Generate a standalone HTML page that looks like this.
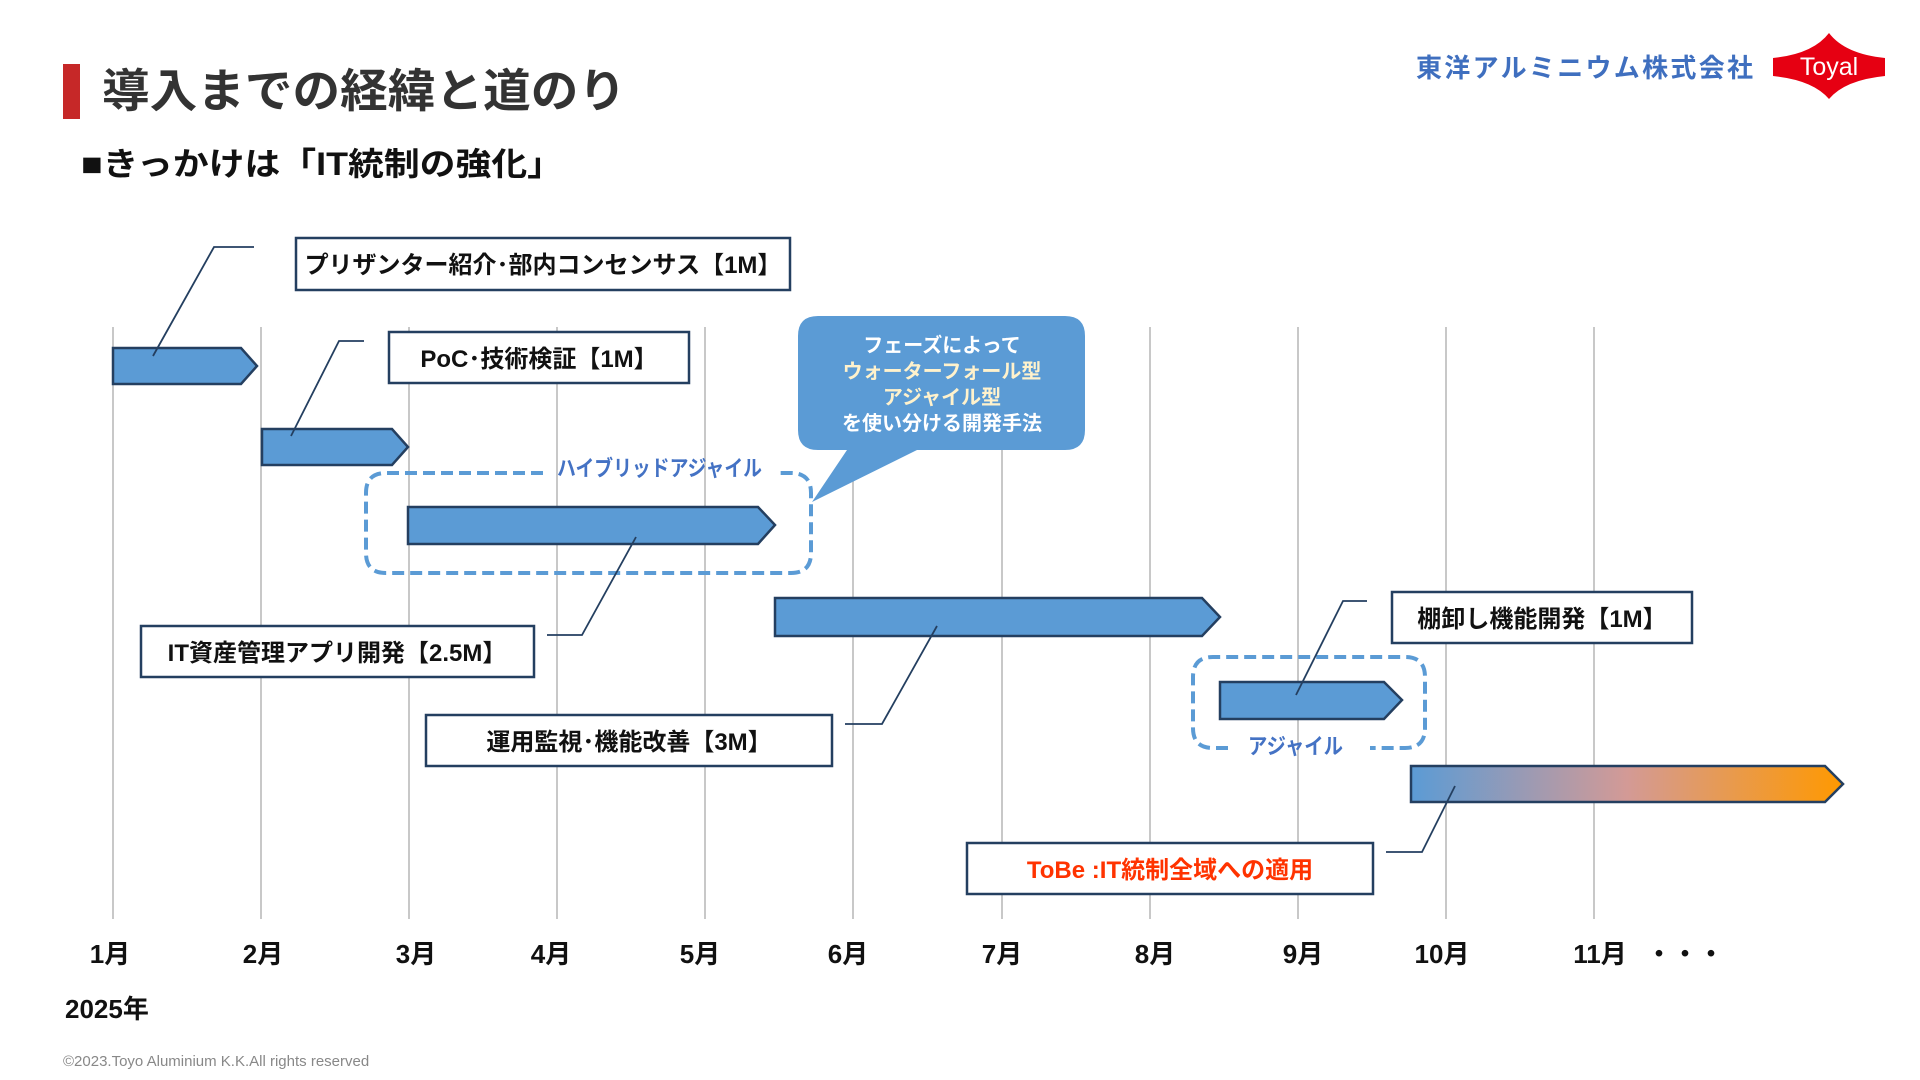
<!DOCTYPE html>
<html><head><meta charset="utf-8"><style>
html,body{margin:0;padding:0;background:#fff;}
svg{display:block;}
text{font-family:"Liberation Sans","Noto Sans CJK JP",sans-serif;font-weight:bold;}
</style></head><body>
<svg width="1920" height="1080" viewBox="0 0 1920 1080" xmlns="http://www.w3.org/2000/svg">
<defs>
<linearGradient id="g" x1="0" x2="1" y1="0" y2="0">
<stop offset="0" stop-color="#5b9bd5"/><stop offset="0.5" stop-color="#d39a96"/><stop offset="1" stop-color="#ff9900"/>
</linearGradient>
</defs>
<rect x="63" y="64" width="17" height="55" fill="#c62828"/>
<text x="102" y="107" font-size="46" fill="#333" textLength="524" lengthAdjust="spacingAndGlyphs">導入までの経緯と道のり</text>
<text x="81" y="175" font-size="32" fill="#111" textLength="482" lengthAdjust="spacingAndGlyphs">■きっかけは「IT統制の強化」</text>
<text x="1416" y="77" font-size="26" fill="#3f6fbf" textLength="337">東洋アルミニウム株式会社</text>
<path d="M1829,33 Q1845,54 1885,58 L1885,76 Q1845,80 1829,99 Q1813,80 1773,76 L1773,58 Q1813,54 1829,33Z" fill="#e60012"/>
<text x="1829" y="75" font-size="25" fill="#fff" text-anchor="middle" style="font-weight:normal">Toyal</text>
<g stroke="#c8c8c8" stroke-width="2">
<line x1="113" y1="327" x2="113" y2="919"/><line x1="261" y1="327" x2="261" y2="919"/>
<line x1="409" y1="327" x2="409" y2="919"/><line x1="557" y1="327" x2="557" y2="919"/>
<line x1="705" y1="327" x2="705" y2="919"/><line x1="853" y1="327" x2="853" y2="919"/>
<line x1="1002" y1="327" x2="1002" y2="919"/><line x1="1150" y1="327" x2="1150" y2="919"/>
<line x1="1298" y1="327" x2="1298" y2="919"/><line x1="1446" y1="327" x2="1446" y2="919"/>
<line x1="1594" y1="327" x2="1594" y2="919"/>
</g>
<g font-size="26" fill="#111" text-anchor="middle">
<text x="110" y="963">1月</text><text x="263" y="963">2月</text><text x="416" y="963">3月</text>
<text x="551" y="963">4月</text><text x="700" y="963">5月</text><text x="848" y="963">6月</text>
<text x="1002" y="963">7月</text><text x="1155" y="963">8月</text><text x="1303" y="963">9月</text>
<text x="1442" y="963">10月</text><text x="1600" y="963">11月</text>
<text x="1685" y="963">・・・</text>
</g>
<text x="65" y="1018" font-size="26" fill="#111">2025年</text>
<text x="63" y="1066" font-size="15" fill="#888" style="font-weight:normal">©2023.Toyo Aluminium K.K.All rights reserved</text>
<g fill="none" stroke="#5b9bd5" stroke-width="4" stroke-dasharray="12,6">
<path d="M543,473 L386,473 Q366,473 366,493 L366,553 Q366,573 386,573 L791,573 Q811,573 811,553 L811,493 Q811,473 791,473 L777,473"/>
<path d="M1228,748 L1213,748 Q1193,748 1193,728 L1193,677 Q1193,657 1213,657 L1405,657 Q1425,657 1425,677 L1425,728 Q1425,748 1405,748 L1370,748"/>
</g>
<text x="557" y="476" font-size="22" fill="#4472c4" textLength="205" lengthAdjust="spacingAndGlyphs">ハイブリッドアジャイル</text>
<text x="1248" y="754" font-size="22" fill="#4472c4" textLength="95" lengthAdjust="spacingAndGlyphs">アジャイル</text>
<path d="M818,316 L1065,316 Q1085,316 1085,336 L1085,430 Q1085,450 1065,450 L917,450 L812,502 L847,450 L818,450 Q798,450 798,430 L798,336 Q798,316 818,316Z" fill="#5b9bd5"/>
<g font-size="20" text-anchor="middle">
<text x="942" y="352" fill="#fff">フェーズによって</text>
<text x="942" y="378" fill="#fff2cc">ウォーターフォール型</text>
<text x="942" y="404" fill="#fff2cc">アジャイル型</text>
<text x="942" y="430" fill="#fff">を使い分ける開発手法</text>
</g>
<g stroke="#243f60" stroke-width="2.5" fill="#5b9bd5">
<path d="M113,348 L241,348 L257,366 L241,384 L113,384Z"/>
<path d="M262,429 L392,429 L408,447 L392,465 L262,465Z"/>
<path d="M408,507 L758,507 L775,525 L758,544 L408,544Z"/>
<path d="M775,598 L1202,598 L1220,617 L1202,636 L775,636Z"/>
<path d="M1220,682 L1384,682 L1402,700 L1384,719 L1220,719Z"/>
<path d="M1411,766 L1825,766 L1843,784 L1825,802 L1411,802Z" fill="url(#g)"/>
</g>
<g fill="none" stroke="#243f60" stroke-width="1.8">
<polyline points="153,356 214,247 254,247"/>
<polyline points="291,436 339,341 364,341"/>
<polyline points="636,537 582,635 547,635"/>
<polyline points="937,626 882,724 845,724"/>
<polyline points="1296,695 1343,601 1367,601"/>
<polyline points="1455,786 1422,852 1386,852"/>
</g>
<g fill="#fff" stroke="#243f60" stroke-width="2.5">
<rect x="296" y="238" width="494" height="52"/>
<rect x="389" y="332" width="300" height="51"/>
<rect x="141" y="626" width="393" height="51"/>
<rect x="426" y="715" width="406" height="51"/>
<rect x="1392" y="592" width="300" height="51"/>
<rect x="967" y="843" width="406" height="51"/>
</g>
<g font-size="24" fill="#111" text-anchor="middle">
<text x="543" y="273">プリザンター紹介･部内コンセンサス【1M】</text>
<text x="539" y="367">PoC･技術検証【1M】</text>
<text x="337" y="661">IT資産管理アプリ開発【2.5M】</text>
<text x="629" y="750">運用監視･機能改善【3M】</text>
<text x="1542" y="627">棚卸し機能開発【1M】</text>
<text x="1170" y="878" fill="#ff3300">ToBe :IT統制全域への適用</text>
</g>
</svg>
</body></html>
